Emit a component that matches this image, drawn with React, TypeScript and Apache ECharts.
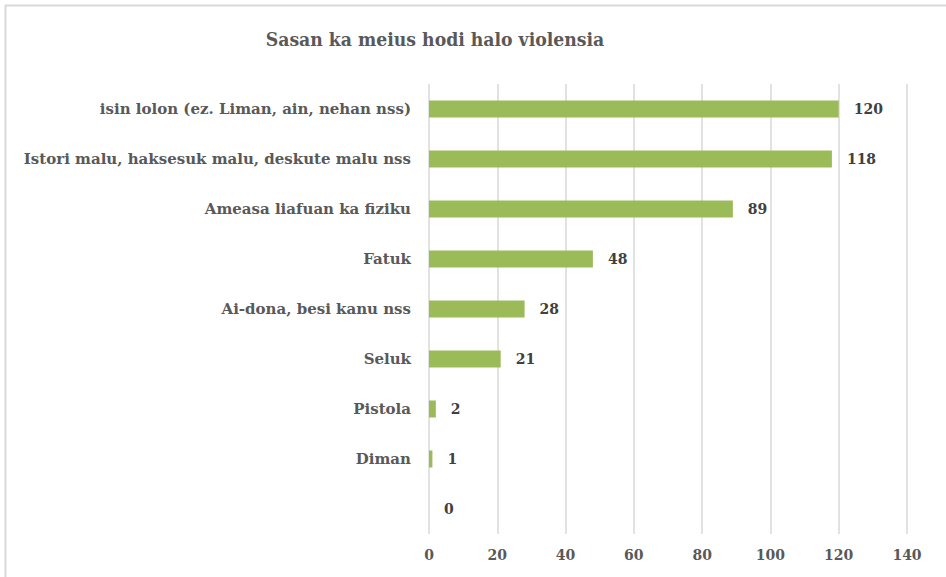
import React, { useEffect, useRef } from "react";
import * as echarts from "echarts";

const categories = [
  "isin lolon (ez. Liman, ain, nehan nss)",
  "Istori malu, haksesuk malu, deskute malu nss",
  "Ameasa liafuan ka fiziku",
  "Fatuk",
  "Ai-dona, besi kanu nss",
  "Seluk",
  "Pistola",
  "Diman",
  "",
];
const values = [120, 118, 89, 48, 28, 21, 2, 1, 0];
const xTicks = { min: 0, max: 140, interval: 20 };
const title = "Sasan ka meius hodi halo violensia";

const FONT = "'DejaVu Serif', 'Liberation Serif', serif";

export default function App() {
  const ref = useRef<HTMLDivElement>(null);
  useEffect(() => {
    document.body.style.margin = "0";
    const chart = echarts.init(ref.current!, null, { renderer: "svg" });
    chart.setOption({
      animation: false,
      backgroundColor: "#ffffff",
      title: {
        text: title,
        left: 430,
        textAlign: "center",
        top: 25,
        textStyle: {
          fontFamily: "'DejaVu Serif Condensed', 'DejaVu Serif', serif",
          fontWeight: "bold",
          fontSize: 19.2,
          color: "#595959",
        },
      },
      graphic: [
        {
          type: "polyline",
          shape: { points: [[5.5, 600], [5.5, 5.5], [960, 5.5]] },
          style: { stroke: "#D9D9D9", lineWidth: 2, fill: "none" },
          silent: true,
        },
      ],
      grid: { left: 429, right: 39, top: 84, bottom: 43, containLabel: false },
      xAxis: {
        type: "value",
        min: xTicks.min,
        max: xTicks.max,
        interval: xTicks.interval,
        axisLine: { show: false },
        axisTick: { show: false },
        splitLine: { show: true, lineStyle: { color: "#D9D9D9", width: 1.5 } },
        axisLabel: {
          color: "#595959",
          fontFamily: FONT,
          fontWeight: "bold",
          fontSize: 14,
          margin: 14,
        },
      },
      yAxis: {
        type: "category",
        data: categories,
        inverse: true,
        axisLine: { show: false },
        axisTick: { show: false },
        splitLine: { show: false },
        axisLabel: {
          color: "#595959",
          fontFamily: FONT,
          fontWeight: "bold",
          fontSize: 15,
          margin: 18,
        },
      },
      series: [
        {
          type: "bar",
          data: values,
          barWidth: 17,
          itemStyle: { color: "#9BBB59" },
          label: {
            show: true,
            position: "right",
            distance: 15,
            color: "#404040",
            fontFamily: FONT,
            fontWeight: "bold",
            fontSize: 14,
          },
        },
      ],
    });
    return () => chart.dispose();
  }, []);
  return <div ref={ref} style={{ width: 946, height: 577 }} />;
}
